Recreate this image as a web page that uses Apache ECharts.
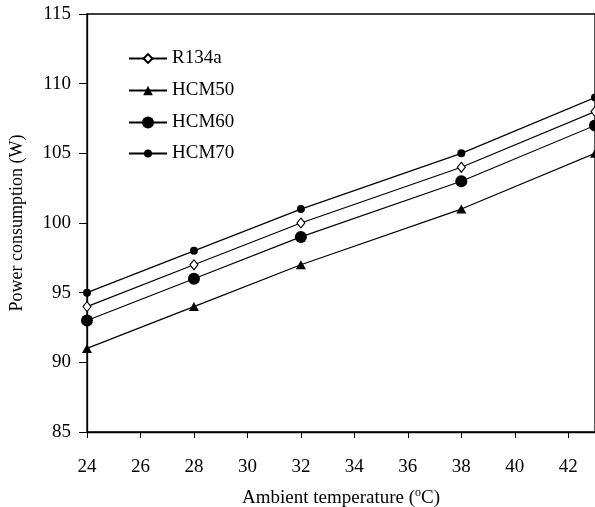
<!DOCTYPE html>
<html>
<head>
<meta charset="utf-8">
<script src="https://cdn.jsdelivr.net/npm/echarts@6/dist/echarts.min.js"></script>
<style>
  html, body { margin: 0; padding: 0; background: #fff; }
  #chart { width: 595px; height: 507px; }
</style>
</head>
<body>
<div id="chart"></div>
<script>
// Ambient temperature (°C) at which each refrigerant was measured
const temperatures = [24, 28, 32, 38, 43];

// Power consumption (W) per refrigerant
const r134a = [94, 97, 100, 104, 108];
const hcm50 = [91, 94, 97, 101, 105];
const hcm60 = [93, 96, 99, 103, 107];
const hcm70 = [95, 98, 101, 105, 109];

const seriesNames = ['R134a', 'HCM50', 'HCM60', 'HCM70'];

const FONT = '"Liberation Serif", "Times New Roman", serif';

function pairs(ys) {
  return temperatures.map((t, i) => [t, ys[i]]);
}

// Marker look per refrigerant; legendHeight sets the legend glyph size (80% of it)
const markerStyles = {
  R134a: { symbol: 'diamond', symbolSize: [8, 10], legendHeight: 11,
           itemStyle: { color: '#fff', borderColor: '#000', borderWidth: 1.1 } },
  HCM50: { symbol: 'triangle', symbolSize: [10, 9], legendHeight: 12,
           itemStyle: { color: '#000', borderColor: '#000', borderWidth: 0 } },
  HCM60: { symbol: 'circle', symbolSize: 12, legendHeight: 15,
           itemStyle: { color: '#000', borderColor: '#000', borderWidth: 0 } },
  HCM70: { symbol: 'circle', symbolSize: 8, legendHeight: 10,
           itemStyle: { color: '#000', borderColor: '#000', borderWidth: 0 } }
};

const valuesByName = { R134a: r134a, HCM50: hcm50, HCM60: hcm60, HCM70: hcm70 };

// One legend block per series so each glyph keeps its own size
const legendRowTop = [49, 81, 113, 144];
const legends = seriesNames.map((name, i) => ({
  left: 128,
  top: legendRowTop[i],
  padding: 0,
  itemWidth: 38,
  itemHeight: markerStyles[name].legendHeight,
  data: [name],
  selectedMode: false,
  textStyle: { fontFamily: FONT, fontSize: 19, color: '#000' }
}));

const chart = echarts.init(document.getElementById('chart'), null, { renderer: 'canvas' });

chart.setOption({
  backgroundColor: '#fff',
  animation: false,
  grid: {
    left: 87, right: 0, top: 14, bottom: 75,
    containLabel: false,
    outerBoundsMode: 'none',
    show: true, borderColor: '#000', borderWidth: 1.3, backgroundColor: 'transparent'
  },
  legend: legends,
  xAxis: {
    type: 'value',
    min: 24, max: 43, interval: 2,
    axisLine: { show: true, lineStyle: { color: '#000', width: 1.3 } },
    axisTick: { show: true, inside: false, length: 6, lineStyle: { color: '#000', width: 1 } },
    axisLabel: {
      fontFamily: FONT, fontSize: 19, color: '#000', margin: 26,
      showMaxLabel: false
    },
    splitLine: { show: false },
    name: '{t|Ambient temperature (}{s|o}{t|C)}',
    nameLocation: 'middle',
    nameGap: 55,
    nameTextStyle: {
      rich: {
        t: { fontFamily: FONT, fontSize: 19, color: '#000' },
        s: { fontFamily: FONT, fontSize: 12, color: '#000', verticalAlign: 'top', padding: [0, 0, 11, 0] }
      }
    }
  },
  yAxis: {
    type: 'value',
    min: 85, max: 115, interval: 5,
    axisLine: { show: true, lineStyle: { color: '#000', width: 1.3 } },
    axisTick: { show: true, inside: false, length: 8, lineStyle: { color: '#000', width: 1 } },
    axisLabel: { fontFamily: FONT, fontSize: 19, color: '#000', margin: 16 },
    splitLine: { show: false },
    name: 'Power consumption (W)',
    nameLocation: 'middle',
    nameGap: 61,
    nameTextStyle: { fontFamily: FONT, fontSize: 18, color: '#000' }
  },
  series: seriesNames.map(name => ({
    name: name,
    type: 'line',
    data: pairs(valuesByName[name]),
    symbol: markerStyles[name].symbol,
    symbolSize: markerStyles[name].symbolSize,
    showAllSymbol: true,
    clip: false,
    itemStyle: markerStyles[name].itemStyle,
    lineStyle: { color: '#000', width: 1.2 },
    emphasis: { disabled: true }
  }))
});
</script>
</body>
</html>
